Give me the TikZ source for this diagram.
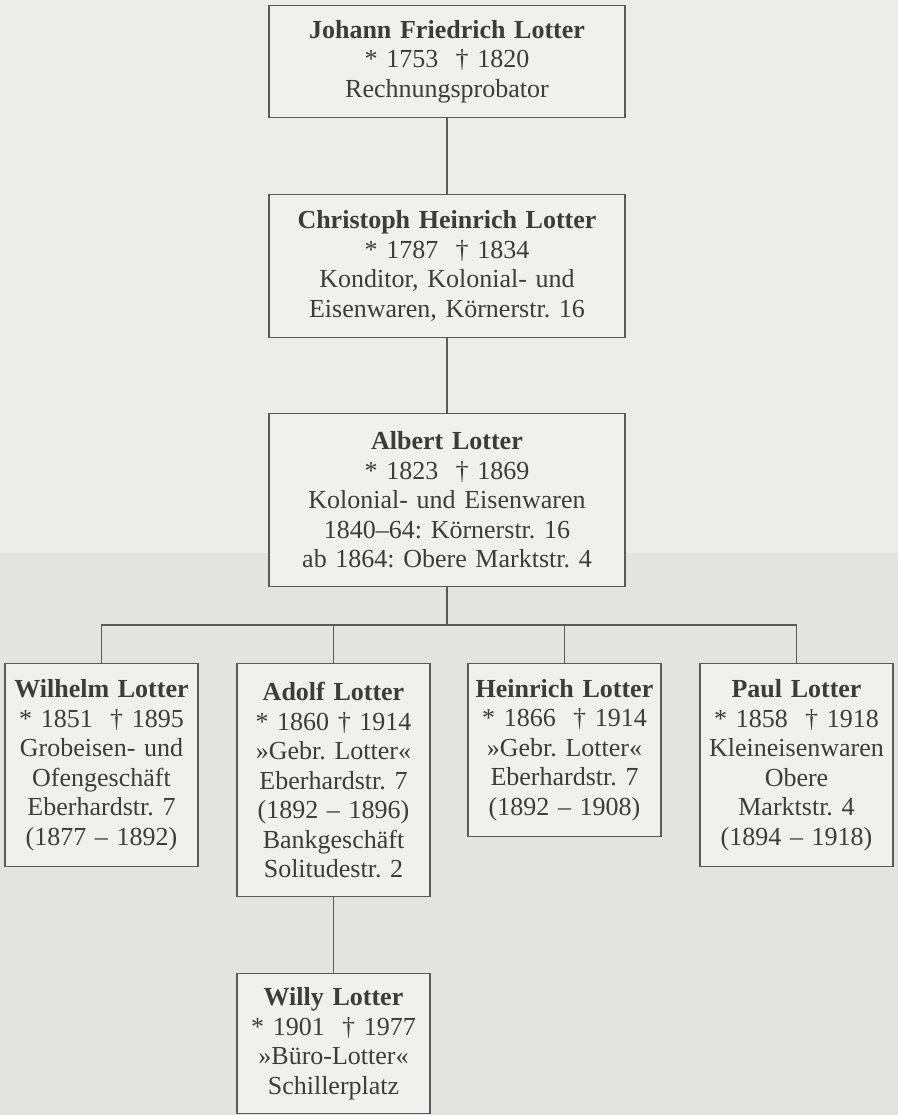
\documentclass[tikz,border=0pt]{standalone}
\usepackage{fontspec}
\setmainfont{Liberation Serif}
\frenchspacing

\definecolor{pbg}{HTML}{ECECE8}
\definecolor{pbglow}{HTML}{E3E3DF}
\definecolor{pbox}{HTML}{F0F0EC}
\definecolor{pline}{HTML}{5A5A5A}
\definecolor{ptext}{HTML}{3C3C3C}

\begin{document}
\begin{tikzpicture}[x=1pt,y=1pt,
  person/.style={draw=pline,line width=1.3pt,fill=pbox,text=ptext,align=center,
    inner sep=0pt,anchor=north,font=\fontsize{26}{29.5}\selectfont},
  wide/.style={person,text width=356pt},
  narrow/.style={person,text width=193pt},
  link/.style={draw=pline,line width=1.3pt}]
  \fill[pbg] (0,0) rectangle (898,-1115);
  \fill[pbglow] (0,-553) rectangle (898,-1115);
  \useasboundingbox (0,0) rectangle (898,-1115);

  \node[wide,minimum height=112pt] (johann) at (447,-5)
    {\textbf{Johann Friedrich Lotter}\\{*} 1753~~† 1820\\Rechnungsprobator};
  \node[wide,minimum height=143pt] (christoph) at (447,-194)
    {\textbf{Christoph Heinrich Lotter}\\{*} 1787~~† 1834\\Konditor, Kolonial- und\\Eisenwaren, Körnerstr. 16};
  \node[wide,minimum height=173pt] (albert) at (447,-413)
    {\textbf{Albert Lotter}\\{*} 1823~~† 1869\\Kolonial- und Eisenwaren\\1840–64: Körnerstr. 16\\ab 1864: Obere Marktstr. 4};

  \node[narrow,minimum height=203pt] (wilhelm) at (101.5,-663)
    {\textbf{Wilhelm Lotter}\\{*} 1851~~† 1895\\Grobeisen- und\\Ofengeschäft\\Eberhardstr. 7\\(1877 – 1892)};
  \node[narrow,minimum height=233pt] (adolf) at (333.5,-663)
    {\textbf{Adolf Lotter}\\{*} 1860~† 1914\\»Gebr. Lotter«\\Eberhardstr. 7\\(1892 – 1896)\\Bankgeschäft\\Solitudestr. 2};
  \node[narrow,minimum height=173pt] (heinrich) at (564.5,-663)
    {\textbf{Heinrich Lotter}\\{*} 1866~~† 1914\\»Gebr. Lotter«\\Eberhardstr. 7\\(1892 – 1908)};
  \node[narrow,minimum height=203pt] (paul) at (796.5,-663)
    {\textbf{Paul Lotter}\\{*} 1858~~† 1918\\Kleineisenwaren\\Obere\\Marktstr. 4\\(1894 – 1918)};

  \node[narrow,minimum height=140pt] (willy) at (333.5,-973)
    {\textbf{Willy Lotter}\\{*} 1901~~† 1977\\»Büro-Lotter«\\Schillerplatz};

  \coordinate (fork) at (447,-625);
  \draw[link] (johann) -- (christoph);
  \draw[link] (christoph) -- (albert);
  \draw[link] (albert) -- (fork);
  \draw[link] (wilhelm.north) |- (fork) -| (paul.north);
  \draw[link] (adolf.north) -- (adolf.north |- fork);
  \draw[link] (heinrich.north) -- (heinrich.north |- fork);
  \draw[link] (adolf) -- (willy);
\end{tikzpicture}
\end{document}
